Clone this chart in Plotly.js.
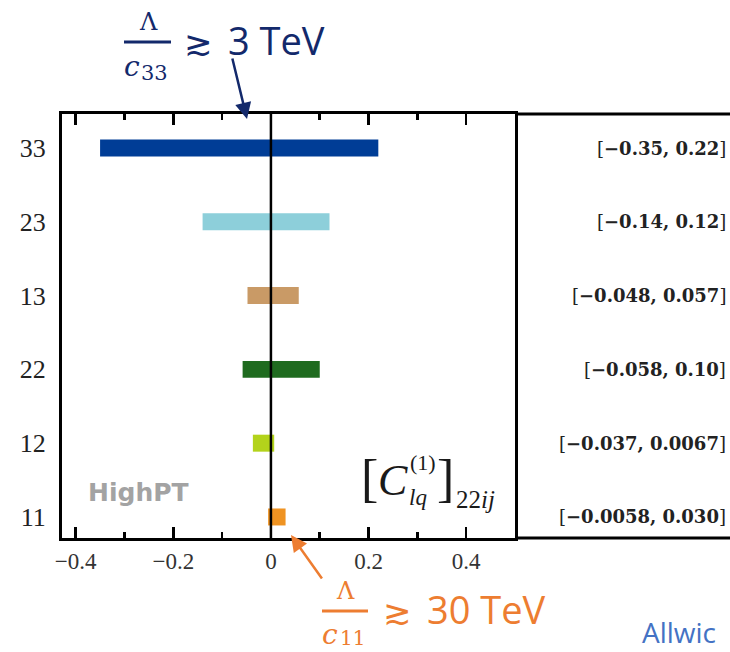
<!DOCTYPE html>
<html>
<head>
<meta charset="utf-8">
<script src="https://cdn.plot.ly/plotly-3.0.1.min.js"></script>
<style>html,body{margin:0;padding:0;background:#fff;}#chart{width:730px;height:652px;}</style>
</head>
<body>
<div id="chart"></div>
<script>
// ---- data ----
const categories = ['11', '12', '22', '13', '23', '33'];           // bottom to top
const lowValues  = [-0.0058, -0.037, -0.058, -0.048, -0.14, -0.35];
const highValues = [0.030, 0.0067, 0.10, 0.057, 0.12, 0.22];
const intervalLabels = ['[−0.0058, 0.030]', '[−0.037, 0.0067]', '[−0.058, 0.10]',
                        '[−0.048, 0.057]', '[−0.14, 0.12]', '[−0.35, 0.22]'];
const barColors = ['#ef9322', '#b3d31b', '#1f6b1f', '#c99a66', '#8dcfda', '#003d96'];
const xTickVals = [-0.4, -0.2, 0, 0.2, 0.4];
const xTickText = ['−0.4', '−0.2', '0', '0.2', '0.4'];

// ---- geometry helpers (pixel -> paper) ----
const W = 730, H = 652, ML = 62, MR = 0, MT = 114, MB = 114;
const PW = W - ML - MR, PH = H - MT - MB;
const px = x => (x - ML) / PW;
const py = y => (H - MB - y) / PH;

const navy = '#13296b';
const orange = '#ed7d31';

const trace = {
  type: 'bar',
  orientation: 'h',
  y: categories,
  x: highValues.map((h, i) => h - lowValues[i]),
  base: lowValues,
  width: 0.23,
  marker: {color: barColors, line: {width: 0}},
  hoverinfo: 'skip'
};

function ann(x, y, text, font, extra) {
  return Object.assign({xref: 'paper', yref: 'paper', x: px(x), y: py(y), text: text,
    showarrow: false, xanchor: 'center', yanchor: 'middle', font: font}, extra || {});
}

const annotations = [];
// interval labels on the right panel
categories.forEach((c, i) => {
  const inner = intervalLabels[i].slice(1, -1);
  annotations.push({
    xref: 'paper', yref: 'y', x: px(728), y: i, xanchor: 'right', yanchor: 'middle',
    text: '[<b>' + inner + '</b>]', showarrow: false,
    font: {family: 'DejaVu Serif', size: 18, color: '#222'}
  });
});
// HighPT watermark
annotations.push(ann(86, 492, '<b>HighPT</b>', {family: 'DejaVu Sans', size: 25, color: '#a3a3a3'}, {xanchor: 'left'}));
// formula [C_lq^(1)]_22ij
const fserif = (s) => ({family: 'Liberation Serif', size: s, color: '#1a1a1a'});
annotations.push(ann(369, 478, '[', fserif(52), {borderpad: 0}));
annotations.push(ann(393, 480, '<i>C</i>', fserif(44), {borderpad: 0}));
annotations.push(ann(423, 462, '(1)', fserif(22), {borderpad: 0}));
annotations.push(ann(418, 497, '<i>lq</i>', fserif(23), {borderpad: 0}));
annotations.push(ann(445, 478, ']', fserif(52), {borderpad: 0}));
annotations.push(ann(476, 499, '22<i>ij</i>', fserif(25), {borderpad: 0}));

// top annotation: Λ / c33 ≳ 3 TeV
annotations.push(ann(148, 22, 'Λ', {family: 'DejaVu Serif', size: 24, color: navy}));
annotations.push(ann(132, 67, '<i>c</i>', {family: 'DejaVu Serif', size: 28, color: navy}));
annotations.push(ann(154, 73, '33', {family: 'DejaVu Serif', size: 21, color: navy}));
annotations.push(ann(198, 43, '≳', {family: 'DejaVu Sans', size: 34, color: navy}));
annotations.push(ann(226, 40, '3 TeV', {family: 'Open Sans', size: 38, color: navy}, {xanchor: 'left'}));
annotations.push({xref: 'paper', yref: 'paper', x: px(247), y: py(119), ax: -15, ay: -62, text: '',
  showarrow: true, arrowhead: 2, arrowsize: 1.3, arrowwidth: 2.5, arrowcolor: navy});

// bottom annotation: Λ / c11 ≳ 30 TeV
annotations.push(ann(345, 591, 'Λ', {family: 'DejaVu Serif', size: 24, color: orange}));
annotations.push(ann(330, 634, '<i>c</i>', {family: 'DejaVu Serif', size: 28, color: orange}));
annotations.push(ann(352, 638, '11', {family: 'DejaVu Serif', size: 20, color: orange}));
annotations.push(ann(397, 612, '≳', {family: 'DejaVu Sans', size: 34, color: orange}));
annotations.push(ann(425, 609, '30 TeV', {family: 'Open Sans', size: 38, color: orange}, {xanchor: 'left'}));
annotations.push({xref: 'paper', yref: 'paper', x: px(291), y: py(535), ax: 32, ay: 45, text: '',
  showarrow: true, arrowhead: 2, arrowsize: 1.3, arrowwidth: 2.5, arrowcolor: orange});

// author text (cut at the edge in the reference)
annotations.push(ann(640, 632, 'Allwic', {family: 'Open Sans', size: 28, color: '#4472c4'}, {xanchor: 'left'}));

const shapes = [
  // zero line above bars
  {type: 'line', xref: 'x', yref: 'paper', x0: 0, x1: 0, y0: 0, y1: 1, layer: 'above',
   line: {color: '#000', width: 2.5}},
  // right panel top and bottom borders
  {type: 'line', xref: 'paper', yref: 'paper', x0: px(515), x1: px(740), y0: 1, y1: 1,
   line: {color: '#000', width: 3}},
  {type: 'line', xref: 'paper', yref: 'paper', x0: px(515), x1: px(740), y0: 0, y1: 0,
   line: {color: '#000', width: 3}},
  // fraction bars
  {type: 'line', xref: 'paper', yref: 'paper', x0: px(124), x1: px(171), y0: py(42), y1: py(42),
   line: {color: navy, width: 3}},
  {type: 'line', xref: 'paper', yref: 'paper', x0: px(322), x1: px(368), y0: py(611), y1: py(611),
   line: {color: orange, width: 3}}
];

const layout = {
  width: W, height: H,
  margin: {l: ML, r: MR, t: MT, b: MB, pad: 0},
  paper_bgcolor: '#fff', plot_bgcolor: '#fff',
  showlegend: false,
  xaxis: {
    domain: [0, px(515)],
    range: [-0.428, 0.5],
    tickvals: xTickVals, ticktext: xTickText,
    ticks: 'inside', ticklen: 11, tickwidth: 2.5, tickcolor: '#000',
    minor: {ticks: 'inside', ticklen: 6, tickwidth: 2.5, tickcolor: '#000', dtick: 0.1, tick0: 0, showgrid: false},
    showline: true, linecolor: '#000', linewidth: 3, mirror: 'ticks',
    showgrid: false, zeroline: false,
    ticklabelstandoff: 0,
    tickfont: {family: 'Liberation Serif', size: 23, color: '#333'}
  },
  yaxis: {
    type: 'category',
    categoryorder: 'array', categoryarray: categories,
    range: [-0.285, 5.461],
    ticks: '', showline: true, linecolor: '#000', linewidth: 3, mirror: true,
    showgrid: false, zeroline: false,
    ticklabelstandoff: 8,
    tickfont: {family: 'Liberation Serif', size: 26, color: '#222'}
  },
  annotations: annotations,
  shapes: shapes
};

Plotly.newPlot('chart', [trace], layout, {staticPlot: true, displayModeBar: false});
</script>
</body>
</html>
